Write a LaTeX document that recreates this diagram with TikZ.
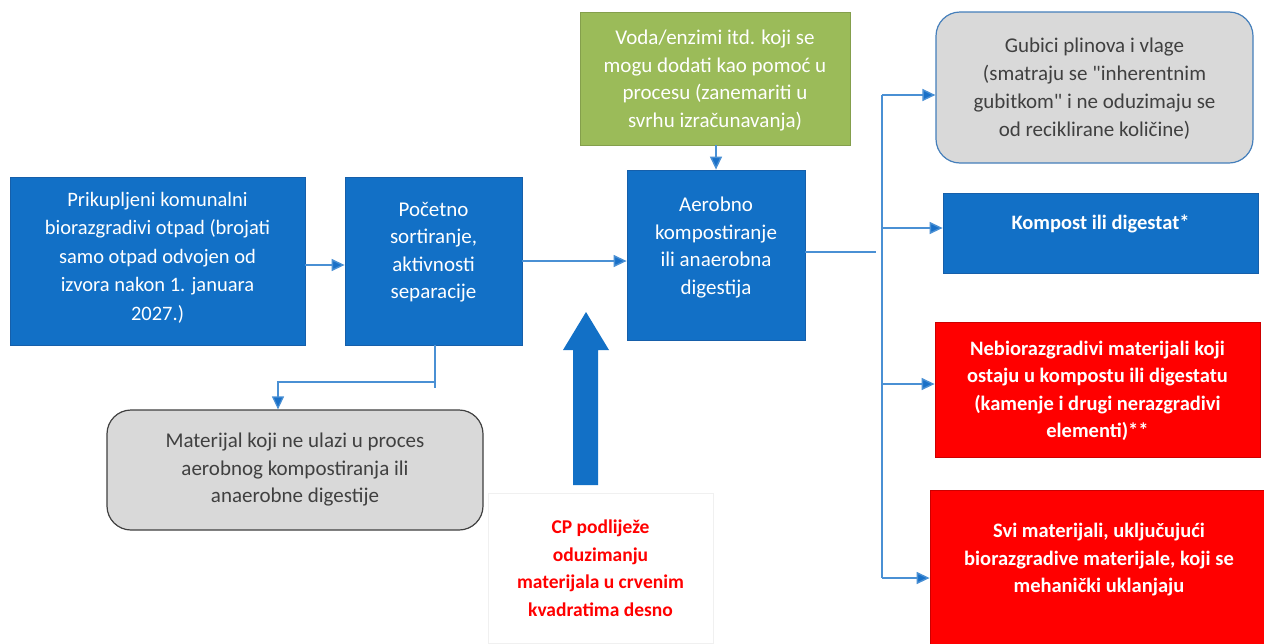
\documentclass[tikz,border=0pt]{standalone}
\usepackage{fontspec}
\setmainfont{Carlito}[Ligatures=TeXOff]
\usetikzlibrary{arrows.meta}
\definecolor{boxblue}{RGB}{18,112,198}
\definecolor{boxblueline}{RGB}{22,95,170}
\definecolor{boxgreen}{RGB}{155,187,89}
\definecolor{boxgray}{RGB}{217,217,217}
\definecolor{linkblue}{RGB}{74,144,212}
\definecolor{tipblue}{RGB}{25,112,200}
\definecolor{darktext}{RGB}{64,64,64}
\definecolor{boxred}{RGB}{255,0,0}
\definecolor{faint}{RGB}{240,240,240}
\tikzset{
  fs/.style={font=\fontsize{#1}{27.5}\selectfont},
  fsb/.style={font=\fontsize{#1}{27.5}\selectfont\bfseries},
  base/.style={align=center, inner sep=0pt, fs=21},
  bluebox/.style={base, fill=boxblue, draw=boxblueline, line width=0.8pt, text=white},
  greenbox/.style={base, fill=boxgreen, draw=boxgreen!85!black, line width=0.8pt, text=white},
  redbox/.style={base, fill=boxred, draw=boxred!80!black, line width=0.8pt, text=white, fsb=20.5},
  graybox/.style={base, fill=boxgray, rounded corners=24pt, line width=1.2pt, text=darktext},
  link/.style={draw=linkblue, line width=1.4pt},
  arr/.style={link, -{Triangle[length=13pt,width=12pt,fill=tipblue]}},
  up/.style={text depth=#1}
}
\begin{document}
\begin{tikzpicture}[x=1pt,y=-1pt]
\useasboundingbox (0,0) rectangle (1264,643);
\fill[white] (0,0) rectangle (1264,643);

% boxes
\node[bluebox, minimum width=295pt, minimum height=168pt, up=10pt, font=\fontsize{20.5}{28.5}\selectfont] (A) at (157.5,261)
 {Prikupljeni komunalni\\biorazgradivi otpad (brojati\\samo otpad odvojen od\\izvora nakon 1. januara\\2027.)};
\node[bluebox, minimum width=177pt, minimum height=168pt, up=21pt] (B) at (433.5,261)
 {Početno\\sortiranje,\\aktivnosti\\separacije};
\node[bluebox, minimum width=178pt, minimum height=170pt, up=19pt] (C) at (716,255)
 {Aerobno\\kompostiranje\\ili anaerobna\\digestija};
\node[greenbox, minimum width=270pt, minimum height=133pt, up=0pt] (D) at (715,78.5)
 {Voda/enzimi itd. koji se\\mogu dodati kao pomoć u\\procesu (zanemariti u\\svrhu izračunavanja)};
\node[graybox, draw=boxblueline!80, minimum width=317pt, minimum height=151pt, up=0pt, font=\fontsize{21}{28}\selectfont] (E) at (1094.5,87.5)
 {Gubici plinova i vlage\\(smatraju se "inherentnim\\gubitkom" i ne oduzimaju se\\od reciklirane količine)};
\node[bluebox, minimum width=315pt, minimum height=80pt, up=21pt, fsb=20.5] (F) at (1100.5,233)
 {Kompost ili digestat*};
\node[redbox, minimum width=325pt, minimum height=135pt, up=0pt] (G) at (1097.5,389.5)
 {Nebiorazgradivi materijali koji\\ostaju u kompostu ili digestatu\\(kamenje i drugi nerazgradivi\\elementi)**};
\node[redbox, minimum width=338pt, minimum height=170pt, up=34pt] (H) at (1099,575)
 {Svi materijali, uključujući\\biorazgradive materijale, koji se\\mehanički uklanjaju};
\node[graybox, draw=darktext, minimum width=376pt, minimum height=120pt] (I) at (295,470)
 {Materijal koji ne ulazi u proces\\aerobnog kompostiranja ili\\anaerobne digestije};
\node[base, draw=faint, fill=white, minimum width=225pt, minimum height=150pt, text=boxred, fsb=19.5] (J) at (600.5,568)
 {CP podliježe\\oduzimanju\\materijala u crvenim\\kvadratima desno};

% big upward arrow
\fill[boxblue] (573,485) -- (573,350) -- (563,350) -- (586,312) -- (609,350) -- (598,350) -- (598,485) -- cycle;

% coordinates for the branches
\coordinate (cend) at (876,252);
\coordinate (k1) at (882,95);
\coordinate (k2) at (882,228);
\coordinate (k3) at (882,384);
\coordinate (k4) at (882,578);
\coordinate (bi) at (435,382);
\coordinate (bt) at (435,388);
\coordinate (ia) at (278,382);

% connectors
\draw[arr] ([yshift=-4pt]A.east) -- ([yshift=-4pt]B.west);
\draw[arr] (B.east) -- (B.east -| C.west);
\draw[arr] (D.south -| C.north) -- (C.north);
\draw[link] (C.east |- cend) -- (cend);
\draw[link] (k1) -- (k4);
\draw[arr] (k1) -- (k1 -| E.west);
\draw[arr] (k2) -- (k2 -| F.west);
\draw[arr] (k3) -- (k3 -| G.west);
\draw[arr] (k4) -- (k4 -| H.west);
\draw[link, line width=1.2pt] (B.south -| bi) -- (bt);
\draw[arr, line width=1.2pt] (bi) -- (ia) -- (ia |- I.north);
\end{tikzpicture}
\end{document}
